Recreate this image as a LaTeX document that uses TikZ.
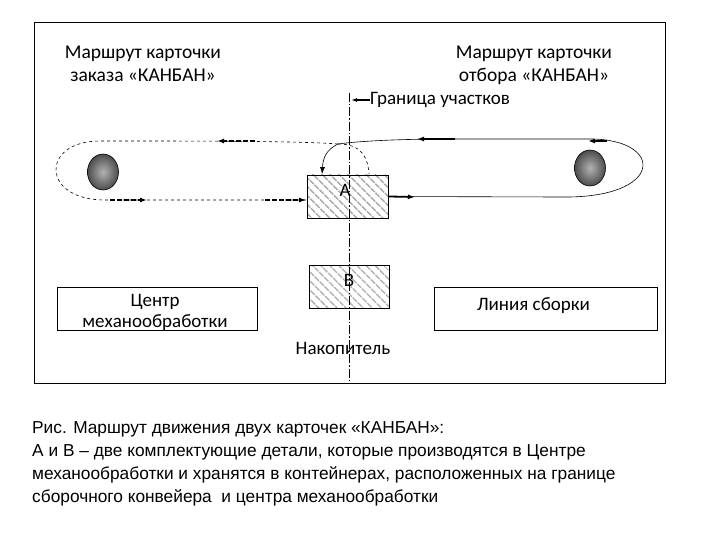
\documentclass[tikz,border=0pt]{standalone}
\usepackage{fontspec}
\setmainfont{Carlito}
\newfontfamily\capfont{Liberation Sans}
\usetikzlibrary{calc,arrows.meta,shapes.geometric,patterns.meta}

\begin{document}
\begin{tikzpicture}[
    x=1pt, y=-1pt,
    frame/.style={draw, line width=0.9pt},
    unit/.style={draw, line width=0.8pt, minimum height=43pt, inner sep=0pt},
    store/.style={draw, line width=0.8pt, minimum width=81pt, minimum height=43pt, inner sep=0pt, pattern={Lines[angle=-45,distance=6.5pt,line width=1.8pt]}, pattern color=black!32},
    sph/.style={ellipse, draw, line width=0.6pt, minimum width=31pt, minimum height=36pt, inner sep=0pt, inner color=black!30, outer color=black!70},
    bnd/.style={line width=0.6pt, dash pattern=on 9pt off 2pt on 1.5pt off 2pt},
    prodK/.style={dashed, line width=0.6pt},
    takeK/.style={line width=0.6pt},
    tipP/.style={line width=1.8pt, dash pattern=on 5pt off 2pt, -{Latex[length=7pt,width=5pt]}},
    tipW/.style={line width=1.8pt, -{Latex[length=7pt,width=5pt]}},
    txt/.style={font=\fontsize{19}{21}\selectfont, align=center, inner sep=0pt},
    capText/.style={font=\capfont\fontsize{17.3}{23}\selectfont, align=left, anchor=north west, inner sep=0pt},
]
\useasboundingbox (0,0) rectangle (720,540);
\draw[frame] (34,22) rectangle (665,383);

% units and storage
\node[unit, minimum width=200pt, label={[txt, yshift=-4pt, xshift=-2pt]center:Центр\\механообработки}] (mc) at (157,308.5) {};
\node[unit, minimum width=223pt, label={[txt, xshift=-12pt, yshift=3pt]center:Линия сборки}] (asm) at (545.5,308.5) {};
\node[store] (A) at (347.5,196.5) {};
\node[store, minimum width=80pt] (B) at (349,286.5) {};
\node[txt] (labA) at (345,190) {A};
\node[txt] (labB) at (349,280) {B};
\node[sph] (s1) at (103,172) {};
\node[sph] (s2) at (590,168) {};

% boundary
\coordinate (bTop) at (349,93);
\coordinate (bBot) at (349,383);
\draw[bnd] (bTop) -- (bBot);
\node[txt, anchor=west] (gr) at (370,100) {Граница участков};
\draw[line width=1.2pt, -{Latex[length=6pt,width=4pt]}] (gr.west) -- ($(bTop |- gr.west)+(2,0)$);
\node[txt] (nak) at (343,348) {Накопитель};

\node[txt, anchor=north, font=\fontsize{19.5}{23}\selectfont] (ordK) at (143,46) {Маршрут карточки\\заказа «КАНБАН»};
\node[txt, anchor=north, font=\fontsize{19.5}{23}\selectfont] (wdK) at (534,46) {Маршрут карточки\\отбора «КАНБАН»};

% card loops
\coordinate (J) at (338,144);
\coordinate (Atop) at ($(A.north west)+(16,0)$);
\coordinate (Ain) at ($(A.west)+(0,3.5)$);
\draw[prodK] (J) .. controls (300,141) and (200,141) .. (100,141)
    .. controls (40.5,141) and (40.5,200) .. (105,200) -- (Ain);
\draw[prodK] (J) .. controls (362,144) and (368,158) .. ($(A.north)+(21.5,0)$);
\draw[takeK, -{Latex[length=7pt,width=5pt]}] (A.east) -- (560,197)
    .. controls (665,199) and (665,139) .. (590,139) -- (450,139)
    .. controls (400,139) and (360,141) .. (J)
    .. controls (326,150) and (323,158) .. (Atop);
\draw[tipP] (255,141) -- (217,141);
\draw[tipP] (110,200) -- (147,200);
\draw[tipP] (265,200) -- (Ain);
\draw[tipW] (A.east) -- (415,197);
\draw[tipW] (455,139) -- (417,139);
\draw[tipW] (607,141) -- (588,141);

\node[capText] (capt) at (32,421) {Рис. Маршрут движения двух карточек «КАНБАН»:\\А и В – две комплектующие детали, которые производятся в Центре\\механообработки и хранятся в контейнерах, расположенных на границе\\сборочного конвейера~ и центра механообработки};
\end{tikzpicture}
\end{document}
